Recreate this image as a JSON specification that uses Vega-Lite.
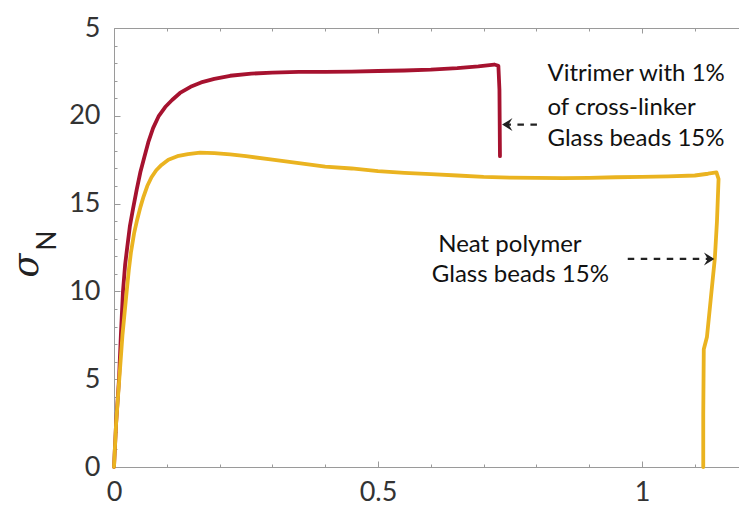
{
  "$schema": "https://vega.github.io/schema/vega-lite/v6.json",
  "width": 626,
  "height": 439,
  "autosize": {"type": "none"},
  "padding": {"left": 114, "top": 28, "right": 0, "bottom": 43},
  "background": "white",
  "config": {
    "view": {"stroke": "#9a9a9a", "strokeWidth": 1},
    "axis": {"grid": false, "domain": false}
  },
  "datasets": {
    "curves": [
      {"s": "Vitrimer", "i": 0, "x": 0, "y": 0},
      {"s": "Vitrimer", "i": 1, "x": 0.004, "y": 2.5},
      {"s": "Vitrimer", "i": 2, "x": 0.0095, "y": 5},
      {"s": "Vitrimer", "i": 3, "x": 0.013, "y": 7.5},
      {"s": "Vitrimer", "i": 4, "x": 0.017, "y": 10},
      {"s": "Vitrimer", "i": 5, "x": 0.021, "y": 11.5},
      {"s": "Vitrimer", "i": 6, "x": 0.025, "y": 12.5},
      {"s": "Vitrimer", "i": 7, "x": 0.030, "y": 13.7},
      {"s": "Vitrimer", "i": 8, "x": 0.036, "y": 14.7},
      {"s": "Vitrimer", "i": 9, "x": 0.043, "y": 15.8},
      {"s": "Vitrimer", "i": 10, "x": 0.050, "y": 16.8},
      {"s": "Vitrimer", "i": 11, "x": 0.057, "y": 17.6},
      {"s": "Vitrimer", "i": 12, "x": 0.065, "y": 18.5},
      {"s": "Vitrimer", "i": 13, "x": 0.074, "y": 19.3},
      {"s": "Vitrimer", "i": 14, "x": 0.085, "y": 20.0},
      {"s": "Vitrimer", "i": 15, "x": 0.097, "y": 20.5},
      {"s": "Vitrimer", "i": 16, "x": 0.11, "y": 20.9},
      {"s": "Vitrimer", "i": 17, "x": 0.125, "y": 21.3},
      {"s": "Vitrimer", "i": 18, "x": 0.145, "y": 21.65},
      {"s": "Vitrimer", "i": 19, "x": 0.165, "y": 21.9},
      {"s": "Vitrimer", "i": 20, "x": 0.19, "y": 22.1},
      {"s": "Vitrimer", "i": 21, "x": 0.22, "y": 22.28},
      {"s": "Vitrimer", "i": 22, "x": 0.26, "y": 22.4},
      {"s": "Vitrimer", "i": 23, "x": 0.30, "y": 22.46},
      {"s": "Vitrimer", "i": 24, "x": 0.35, "y": 22.5},
      {"s": "Vitrimer", "i": 25, "x": 0.40, "y": 22.5},
      {"s": "Vitrimer", "i": 26, "x": 0.45, "y": 22.52},
      {"s": "Vitrimer", "i": 27, "x": 0.50, "y": 22.55},
      {"s": "Vitrimer", "i": 28, "x": 0.55, "y": 22.58},
      {"s": "Vitrimer", "i": 29, "x": 0.60, "y": 22.63},
      {"s": "Vitrimer", "i": 30, "x": 0.65, "y": 22.72},
      {"s": "Vitrimer", "i": 31, "x": 0.69, "y": 22.82},
      {"s": "Vitrimer", "i": 32, "x": 0.72, "y": 22.92},
      {"s": "Vitrimer", "i": 33, "x": 0.728, "y": 22.85},
      {"s": "Vitrimer", "i": 34, "x": 0.730, "y": 21.5},
      {"s": "Vitrimer", "i": 35, "x": 0.731, "y": 17.7},
      {"s": "Neat", "i": 0, "x": 0, "y": 0},
      {"s": "Neat", "i": 1, "x": 0.004, "y": 2.5},
      {"s": "Neat", "i": 2, "x": 0.010, "y": 5},
      {"s": "Neat", "i": 3, "x": 0.016, "y": 7.5},
      {"s": "Neat", "i": 4, "x": 0.024, "y": 10},
      {"s": "Neat", "i": 5, "x": 0.028, "y": 11.2},
      {"s": "Neat", "i": 6, "x": 0.032, "y": 12.2},
      {"s": "Neat", "i": 7, "x": 0.038, "y": 13.3},
      {"s": "Neat", "i": 8, "x": 0.044, "y": 14.1},
      {"s": "Neat", "i": 9, "x": 0.050, "y": 14.8},
      {"s": "Neat", "i": 10, "x": 0.056, "y": 15.4},
      {"s": "Neat", "i": 11, "x": 0.063, "y": 16.0},
      {"s": "Neat", "i": 12, "x": 0.071, "y": 16.5},
      {"s": "Neat", "i": 13, "x": 0.080, "y": 16.9},
      {"s": "Neat", "i": 14, "x": 0.090, "y": 17.2},
      {"s": "Neat", "i": 15, "x": 0.103, "y": 17.5},
      {"s": "Neat", "i": 16, "x": 0.12, "y": 17.7},
      {"s": "Neat", "i": 17, "x": 0.14, "y": 17.82},
      {"s": "Neat", "i": 18, "x": 0.163, "y": 17.9},
      {"s": "Neat", "i": 19, "x": 0.19, "y": 17.88},
      {"s": "Neat", "i": 20, "x": 0.22, "y": 17.8},
      {"s": "Neat", "i": 21, "x": 0.25, "y": 17.7},
      {"s": "Neat", "i": 22, "x": 0.30, "y": 17.5},
      {"s": "Neat", "i": 23, "x": 0.35, "y": 17.3},
      {"s": "Neat", "i": 24, "x": 0.40, "y": 17.1},
      {"s": "Neat", "i": 25, "x": 0.45, "y": 17.0},
      {"s": "Neat", "i": 26, "x": 0.50, "y": 16.85},
      {"s": "Neat", "i": 27, "x": 0.55, "y": 16.75},
      {"s": "Neat", "i": 28, "x": 0.60, "y": 16.68},
      {"s": "Neat", "i": 29, "x": 0.65, "y": 16.6},
      {"s": "Neat", "i": 30, "x": 0.70, "y": 16.52},
      {"s": "Neat", "i": 31, "x": 0.75, "y": 16.48},
      {"s": "Neat", "i": 32, "x": 0.80, "y": 16.46},
      {"s": "Neat", "i": 33, "x": 0.85, "y": 16.45},
      {"s": "Neat", "i": 34, "x": 0.90, "y": 16.47},
      {"s": "Neat", "i": 35, "x": 0.95, "y": 16.5},
      {"s": "Neat", "i": 36, "x": 1.0, "y": 16.52},
      {"s": "Neat", "i": 37, "x": 1.05, "y": 16.55},
      {"s": "Neat", "i": 38, "x": 1.10, "y": 16.6},
      {"s": "Neat", "i": 39, "x": 1.125, "y": 16.7},
      {"s": "Neat", "i": 40, "x": 1.141, "y": 16.78},
      {"s": "Neat", "i": 41, "x": 1.145, "y": 16.4},
      {"s": "Neat", "i": 42, "x": 1.142, "y": 14},
      {"s": "Neat", "i": 43, "x": 1.138, "y": 11.9},
      {"s": "Neat", "i": 44, "x": 1.130, "y": 9.5},
      {"s": "Neat", "i": 45, "x": 1.123, "y": 7.4},
      {"s": "Neat", "i": 46, "x": 1.117, "y": 6.7},
      {"s": "Neat", "i": 47, "x": 1.116, "y": 3},
      {"s": "Neat", "i": 48, "x": 1.116, "y": 0}
    ],
    "notes": [
      {"x": 0.821, "y": 21.97, "t": "Vitrimer with 1%"},
      {"x": 0.821, "y": 20.07, "t": "of cross-linker"},
      {"x": 0.821, "y": 18.26, "t": "Glass beads 15%"},
      {"x": 0.614, "y": 12.27, "t": "Neat polymer"},
      {"x": 0.602, "y": 10.51, "t": "Glass beads 15%"}
    ],
    "arrows": [
      {"x": 0.801, "x2": 0.735, "y": 19.5, "dir": "left"},
      {"x": 0.973, "x2": 1.137, "y": 11.85, "dir": "right"}
    ]
  },
  "layer": [
    {
      "data": {"name": "curves"},
      "mark": {"type": "line", "strokeWidth": 3.8, "strokeJoin": "round", "strokeCap": "round"},
      "encoding": {
        "x": {
          "field": "x", "type": "quantitative",
          "scale": {"domain": [0, 1.1856], "nice": false, "zero": false},
          "axis": {
            "orient": "bottom",
            "values": [0, 0.1, 0.2, 0.3, 0.4, 0.5, 0.6, 0.7, 0.8, 0.9, 1, 1.1],
            "labelExpr": "datum.value == 0 || datum.value == 0.5 || datum.value == 1 ? '' + datum.value : ''",
            "tickSize": {"condition": {"test": "datum.value == 0 || datum.value == 0.5 || datum.value == 1", "value": -6}, "value": -3},
            "tickColor": "#9a9a9a",
            "labelFont": "Lato", "labelFontSize": 27, "labelColor": "#333333",
            "labelPadding": 18, "labelFlush": false, "labelOverlap": false,
            "title": null
          }
        },
        "y": {
          "field": "y", "type": "quantitative",
          "scale": {"domain": [0, 25], "nice": false, "zero": false},
          "axis": {
            "orient": "left",
            "values": [0,1,2,3,4,5,6,7,8,9,10,11,12,13,14,15,16,17,18,19,20,21,22,23,24,25],
            "labelExpr": "datum.value % 5 == 0 ? (datum.value == 25 ? '5' : '' + datum.value) : ''",
            "tickSize": {"condition": {"test": "datum.value % 5 == 0", "value": -6}, "value": -3},
            "tickColor": "#9a9a9a",
            "labelFont": "Lato", "labelFontSize": 27, "labelColor": "#333333",
            "labelPadding": 20, "labelOverlap": false,
            "title": "N",
            "titleFont": "Lato", "titleFontSize": 26, "titleFontWeight": "normal", "titleColor": "#222222",
            "titleAngle": 270, "titleX": -59, "titleY": 212, "titleBaseline": "alphabetic", "titleAlign": "center"
          }
        },
        "color": {
          "field": "s", "type": "nominal",
          "scale": {"domain": ["Vitrimer", "Neat"], "range": ["#a6122f", "#eab320"]},
          "legend": null
        },
        "order": {"field": "i", "type": "quantitative"}
      }
    },
    {
      "data": {"name": "notes"},
      "mark": {"type": "text", "align": "left", "baseline": "alphabetic", "font": "Lato", "fontSize": 24, "color": "#111111"},
      "encoding": {
        "x": {
          "field": "x", "type": "quantitative",
          "scale": {"domain": [0, 1.1856], "nice": false, "zero": false},
          "axis": {
            "orient": "top",
            "values": [0, 0.1, 0.2, 0.3, 0.4, 0.5, 0.6, 0.7, 0.8, 0.9, 1, 1.1],
            "labels": false,
            "tickSize": {"condition": {"test": "datum.value == 0 || datum.value == 0.5 || datum.value == 1", "value": -5}, "value": -3},
            "tickColor": "#9a9a9a",
            "title": null
          }
        },
        "y": {
          "field": "y", "type": "quantitative",
          "scale": {"domain": [0, 25], "nice": false, "zero": false},
          "axis": {
            "orient": "left",
            "labels": false, "ticks": false,
            "title": "σ",
            "titleFont": "DejaVu Serif", "titleFontStyle": "italic", "titleFontSize": 35, "titleFontWeight": "normal", "titleColor": "#222222",
            "titleAngle": 270, "titleX": -77, "titleY": 237, "titleBaseline": "alphabetic", "titleAlign": "center"
          }
        },
        "text": {"field": "t"}
      }
    },
    {
      "data": {"name": "arrows"},
      "mark": {"type": "rule", "strokeDash": [6.5, 6.5], "strokeWidth": 2.2, "color": "#222222"},
      "encoding": {
        "x": {"field": "x", "type": "quantitative", "scale": {"domain": [0, 1.1856], "nice": false, "zero": false}, "axis": null},
        "x2": {"field": "x2"},
        "y": {"field": "y", "type": "quantitative", "scale": {"domain": [0, 25], "nice": false, "zero": false}, "axis": null}
      }
    },
    {
      "data": {"name": "arrows"},
      "mark": {"type": "point", "filled": true, "size": 169, "color": "#222222", "opacity": 1},
      "encoding": {
        "x": {"field": "x2", "type": "quantitative", "scale": {"domain": [0, 1.1856], "nice": false, "zero": false}, "axis": null},
        "y": {"field": "y", "type": "quantitative", "scale": {"domain": [0, 25], "nice": false, "zero": false}, "axis": null},
        "shape": {
          "field": "dir", "type": "nominal",
          "scale": {"domain": ["left", "right"], "range": ["M0,0L1.6,-1L1.0,0L1.6,1Z", "M0,0L-1.6,-1L-1.0,0L-1.6,1Z"]},
          "legend": null
        }
      }
    }
  ],
  "resolve": {"axis": {"x": "independent", "y": "independent"}}
}
